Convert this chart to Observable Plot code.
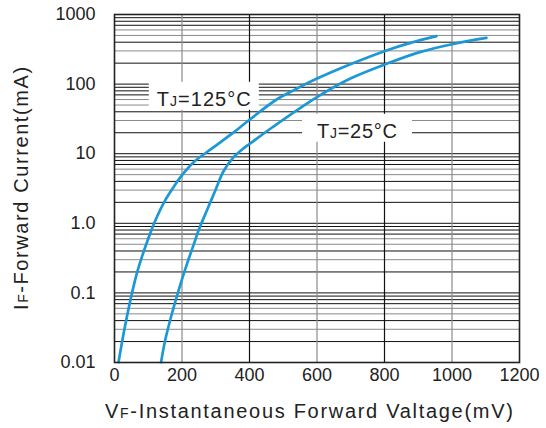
<!DOCTYPE html>
<html><head><meta charset="utf-8">
<script src="https://cdn.jsdelivr.net/npm/d3@7"></script>
<script src="https://cdn.jsdelivr.net/npm/@observablehq/plot@0.6"></script>
<style>
html,body{margin:0;padding:0;background:#fff;}
#chart svg{display:block}
</style></head><body><div id="chart"></div>
<script>
// Tj = 125 °C curve (mV, mA)
const hotV = [12, 27, 47, 66, 81, 101, 121, 150, 175, 195, 236, 288, 348, 400, 477, 536, 600, 699, 808, 877, 954];
const hotI = [0.0101, 0.026, 0.078, 0.189, 0.327, 0.62, 1.1, 2.14, 3.32, 4.58, 7.65, 11.8, 19.4, 30.7, 58.6, 84, 120, 193, 307, 391, 488];
// Tj = 25 °C curve (mV, mA)
const coldV = [138, 150, 170, 190, 215, 239, 249, 274, 299, 323, 353, 379, 402, 468, 600, 699, 808, 907, 1000, 1102];
const coldI = [0.0101, 0.0207, 0.0502, 0.109, 0.263, 0.569, 0.79, 1.54, 2.98, 5.6, 8.9, 11.6, 14.0, 24.0, 65, 120, 197, 290, 374, 461];

const xTicks = [0, 200, 400, 600, 800, 1000, 1200];
const xTickLabels = ["0", "200", "400", "600", "800", "1000", "1200"];
const yTicks = [0.01, 0.1, 1, 10, 100, 1000];
const yTickLabels = ["0.01", "0.1", "1.0", "10", "100", "1000"];

const labelTemps = ["125", "25"];
const labelV = [266, 720];
const labelI = [60.5, 21];

const FONT = "'Liberation Sans', Arial, Helvetica, sans-serif";
const BLUE = "#1b98d5";

const hot = hotV.map((v, i) => ({v, i: hotI[i]}));
const cold = coldV.map((v, i) => ({v, i: coldI[i]}));

const minor = d3.scaleLog().domain([0.01, 1000]).ticks();
const darkMinor = minor.filter(d => { const m = Math.round(d / Math.pow(10, Math.floor(Math.log10(d) + 1e-9))); return [1, 2, 4, 7, 8, 9].includes(m); });
const grayMinor = minor.filter(d => !darkMinor.includes(d));
const innerX = xTicks.slice(1, -1);

function annotations(index, scales, values, dims) {
  const g = d3.create("svg:g").attr("font-family", FONT).attr("fill", "#222");
  labelTemps.forEach((temp, k) => {
    const cx = scales.x(labelV[k]), cy = scales.y(labelI[k]);
    g.append("rect").attr("x", cx - 55).attr("y", cy - 17).attr("width", 110).attr("height", 28).attr("fill", "white");
    const t = g.append("text").attr("class", "fit").attr("data-target", k === 0 ? 94 : 80)
      .attr("x", cx).attr("y", cy).attr("dy", "0.36em")
      .attr("text-anchor", "middle").attr("font-size", 20);
    t.append("tspan").text("T");
    t.append("tspan").attr("font-size", 14).text("J");
    t.append("tspan").text("=" + temp + "°C");
  });
  return g.node();
}

function titles(index, scales, values, dims) {
  const g = d3.create("svg:g").attr("font-family", FONT).attr("fill", "#222").attr("font-size", 20);
  const tx = g.append("text").attr("class", "fit").attr("data-target", 408)
    .attr("text-anchor", "start").attr("x", 105).attr("y", dims.height - 10);
  tx.append("tspan").text("V");
  tx.append("tspan").attr("font-size", 14).text("F");
  tx.append("tspan").text("-Instantaneous Forward Valtage(mV)");
  const ty = g.append("text").attr("class", "fit").attr("data-target", 243)
    .attr("text-anchor", "start").attr("transform", `translate(28,310) rotate(-90)`);
  ty.append("tspan").text("I");
  ty.append("tspan").attr("font-size", 14).text("F");
  ty.append("tspan").text("-Forward Current(mA)");
  return g.node();
}

const chart = Plot.plot({
  width: 546,
  height: 428,
  marginLeft: 114,
  marginRight: 27,
  marginTop: 14,
  marginBottom: 66,
  style: {fontFamily: FONT, fontSize: "18px", color: "#222", background: "white"},
  x: {domain: [0, 1200]},
  y: {type: "log", domain: [0.01, 1000]},
  marks: [
    Plot.ruleY(grayMinor, {stroke: "#8a8a8a", strokeWidth: 1}),
    Plot.ruleY(darkMinor, {stroke: "#111", strokeWidth: 1}),
    Plot.ruleX(innerX.filter((d, i) => i % 2 === 0), {stroke: "#8a8a8a", strokeWidth: 1.2}),
    Plot.ruleX(innerX.filter((d, i) => i % 2 === 1), {stroke: "#111", strokeWidth: 1.2}),
    annotations,
    Plot.line(hot, {x: "v", y: "i", stroke: BLUE, strokeWidth: 2.7, curve: "catmull-rom"}),
    Plot.line(cold, {x: "v", y: "i", stroke: BLUE, strokeWidth: 2.7, curve: "catmull-rom"}),
    Plot.frame({stroke: "#222", strokeWidth: 1.6}),
    Plot.axisX({ticks: xTicks, tickSize: 0, tickPadding: 6, fontSize: 18, label: null,
      tickFormat: d => xTickLabels[xTicks.indexOf(d)]}),
    Plot.axisY({ticks: yTicks, tickSize: 0, tickPadding: 19, fontSize: 18, label: null,
      tickFormat: d => yTickLabels[yTicks.indexOf(d)]}),
    titles
  ]
});
document.getElementById("chart").appendChild(chart);

// stretch titles/labels to the reference's wide letter spacing
chart.querySelectorAll("text.fit").forEach(t => {
  const target = +t.getAttribute("data-target");
  const n = t.textContent.length;
  const len = t.getComputedTextLength();
  const ls = Math.max(0, (target - len) / Math.max(1, n - 1));
  t.setAttribute("letter-spacing", ls.toFixed(2));
  if (t.getAttribute("text-anchor") === "middle") t.setAttribute("dx", (ls / 2).toFixed(2));
});
</script></body></html>
